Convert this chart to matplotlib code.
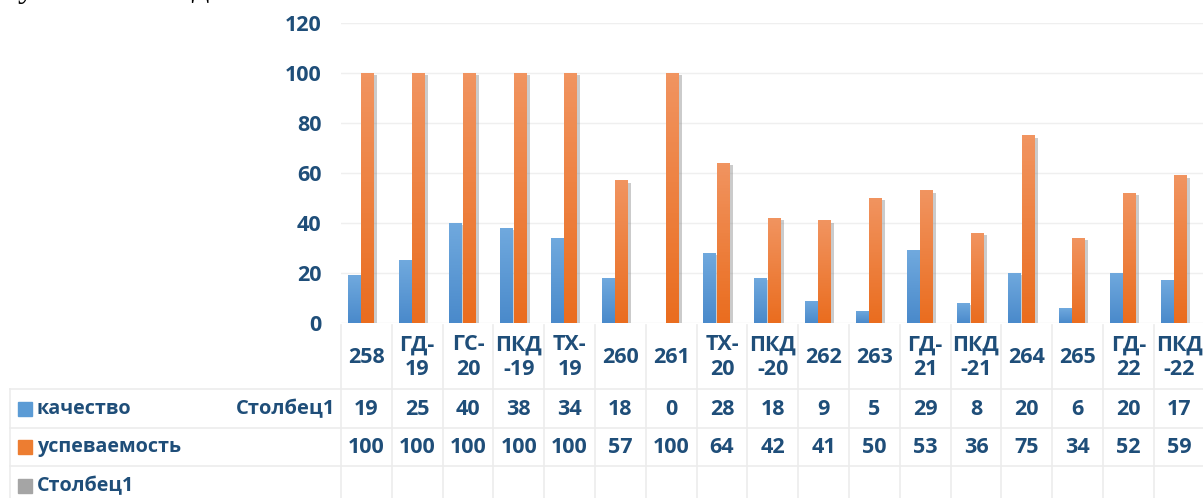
import numpy as np
import matplotlib
matplotlib.use('Agg')
import matplotlib.pyplot as plt
import matplotlib.patheffects as pe
from matplotlib.transforms import blended_transform_factory

plt.rcParams['font.family'] = ['Open Sans', 'DejaVu Sans']

# data
groups = ['258', 'ГД-\n19', 'ГС-\n20', 'ПКД\n-19', 'ТХ-\n19', '260', '261', 'ТХ-\n20',
          'ПКД\n-20', '262', '263', 'ГД-\n21', 'ПКД\n-21', '264', '265', 'ГД-\n22', 'ПКД\n-22']
kachestvo = [19, 25, 40, 38, 34, 18, 0, 28, 18, 9, 5, 29, 8, 20, 6, 20, 17]
uspevaemost = [100, 100, 100, 100, 100, 57, 100, 64, 42, 41, 50, 53, 36, 75, 34, 52, 59]
row_names = ['качество', 'успеваемость', 'Столбец1']
yticks = [0, 20, 40, 60, 80, 100, 120]

W, H = 1203, 498
txt = '#1f4e79'
grid_c = '#efefef'

fig = plt.figure(figsize=(W / 100, H / 100), dpi=100)

# overlay in pixel coordinates for the data table
tab = fig.add_axes([0, 0, 1, 1])
tab.set_xlim(0, W)
tab.set_ylim(H, 0)
tab.axis('off')

x0, colw = 341, 50.8
n = len(groups)
ax = fig.add_axes([x0 / W, 1 - 323 / H, n * colw / W, 300 / H])
ax.set_xlim(-0.5, n - 0.5)
ax.set_ylim(0, 120)
for s in ax.spines.values():
    s.set_visible(False)
ax.set_yticks(yticks)
ax.set_yticklabels([str(t) for t in yticks], fontsize=15.5, fontweight='bold', color=txt)
ax.tick_params(axis='y', length=0, pad=14)
ax.set_xticks([])
ax.grid(axis='y', color=grid_c, lw=1)
ax.set_axisbelow(True)
ax.patch.set_alpha(0)


def grad_bars(xs, vals, top, bottom, width):
    bars = ax.bar(xs, vals, width, color='none', zorder=2)
    cmap = matplotlib.colors.LinearSegmentedColormap.from_list('g', [bottom, top])
    for b, v in zip(bars, vals):
        if v <= 0:
            continue
        shadow = matplotlib.patches.Rectangle((b.get_x(), 0), width, v, color='none',
                                              zorder=1.5)
        ax.add_patch(shadow)
        shadow.set_path_effects([pe.SimplePatchShadow(offset=(2.5, -1.5),
                                                      shadow_rgbFace='#7f7f7f', alpha=0.4)])
        im = ax.imshow(np.linspace(0, 1, 50).reshape(-1, 1), cmap=cmap, origin='lower',
                       extent=(b.get_x(), b.get_x() + width, 0, v), aspect='auto', zorder=2)
        im.set_clip_path(b)


idx = np.arange(n)
bw = 0.245
grad_bars(idx - 0.245, kachestvo, '#70a9de', '#4a8acb', bw)
grad_bars(idx + 0.02, uspevaemost, '#f19460', '#ea6d1f', bw)
ax.set_xlim(-0.5, n - 0.5)
ax.set_ylim(0, 120)

# table
tr = blended_transform_factory(ax.transData, tab.transData)
line_c = '#ececec'
edges = np.arange(n + 1) - 0.5
for e in edges:
    tab.plot([e, e], [325, H], color=line_c, lw=1.2, transform=tr, clip_on=False)
for yy in [389, 428, 466]:
    tab.plot([10, W], [yy, yy], color=line_c, lw=1.2)
tab.plot([10, 10], [389, H], color=line_c, lw=1.2)

for i, g in enumerate(groups):
    tab.text(i, 357, g, transform=tr, ha='center', va='center', fontsize=15.5,
             fontweight='bold', color=txt, linespacing=1.2)

row_y = [409, 447, 486]
row_cols = ['#5b9bd5', '#ed7d31', '#a5a5a5']
for yy, name, c in zip(row_y, row_names, row_cols):
    tab.add_patch(matplotlib.patches.Rectangle((18, yy - 7), 14, 14, color=c))
    tab.text(37, yy, name, ha='left', va='center', fontsize=14.2, fontweight='bold', color=txt)
tab.text(335, row_y[0], 'Столбец1', ha='right', va='center', fontsize=14.5,
         fontweight='bold', color=txt)

for i in range(n):
    tab.text(i, row_y[0], str(kachestvo[i]), transform=tr, ha='center', va='center',
             fontsize=15.5, fontweight='bold', color=txt)
    tab.text(i, row_y[1], str(uspevaemost[i]), transform=tr, ha='center', va='center',
             fontsize=15.5, fontweight='bold', color=txt)

# cut-off heading line from the page above
tab.text(18, -4, 'учебного года.', ha='left', va='baseline', fontsize=25,
         family='Liberation Serif', color='black')

fig.savefig('out.png', dpi=100)
